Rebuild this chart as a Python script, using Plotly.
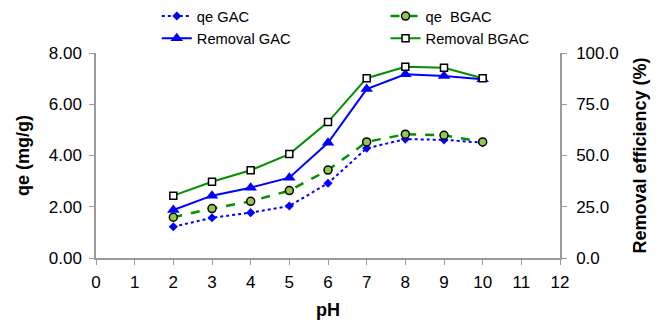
import plotly.graph_objects as go

ph = [2, 3, 4, 5, 6, 7, 8, 9, 10]
qe_gac = [1.22, 1.57, 1.77, 2.03, 2.92, 4.28, 4.64, 4.61, 4.50]
qe_bgac = [1.59, 1.93, 2.21, 2.63, 3.43, 4.53, 4.83, 4.79, 4.53]
rem_gac = [23.4, 30.4, 34.3, 39.2, 56.2, 82.4, 89.6, 88.8, 87.2]
rem_bgac = [30.4, 37.2, 42.8, 50.7, 66.3, 87.7, 93.3, 92.8, 87.7]

x_ticks = list(range(0, 13))
left_ticks = [0, 2, 4, 6, 8]
right_ticks = [0, 25, 50, 75, 100]

BLUE = "#0000FF"
GREEN = "#009000"
LGREEN = "#92C850"

fig = go.Figure()
fig.add_trace(go.Scatter(x=ph, y=qe_gac, name="qe GAC", mode="lines+markers",
                         line=dict(color=BLUE, width=2, dash="dot"),
                         marker=dict(symbol="diamond", size=7, color=BLUE),
                         legend="legend"))
fig.add_trace(go.Scatter(x=ph, y=rem_gac, name="Removal GAC", mode="lines+markers",
                         line=dict(color=BLUE, width=2),
                         marker=dict(symbol="triangle-up", size=11, color=BLUE),
                         yaxis="y2", legend="legend"))
fig.add_trace(go.Scatter(x=ph, y=qe_bgac, name="qe  BGAC", mode="lines+markers",
                         line=dict(color=GREEN, width=2.5, dash="dash"),
                         marker=dict(symbol="circle", size=8, color=LGREEN,
                                     line=dict(color="black", width=1.5)),
                         legend="legend2"))
fig.add_trace(go.Scatter(x=ph, y=rem_bgac, name="Removal BGAC", mode="lines+markers",
                         line=dict(color=GREEN, width=2),
                         marker=dict(symbol="square", size=7, color="white",
                                     line=dict(color="black", width=1.5)),
                         yaxis="y2", legend="legend2"))

axis_common = dict(showgrid=False, zeroline=False, showline=True,
                   linecolor="#9a9a9a", linewidth=1.5, ticks="outside",
                   tickcolor="#9a9a9a", ticklen=5,
                   tickfont=dict(family="Liberation Sans, Arial", size=17, color="black"))

fig.update_layout(
    width=659, height=325,
    margin=dict(l=96, r=99, t=53, b=67, autoexpand=False),
    paper_bgcolor="white", plot_bgcolor="white",
    font=dict(family="Liberation Sans, Arial", color="black"),
    xaxis=dict(range=[0, 12], tickvals=x_ticks, **axis_common, ticklabelstandoff=3,
               title=dict(text="<b>pH</b>", font=dict(size=18), standoff=12)),
    yaxis=dict(range=[0, 8], tickvals=left_ticks, tickformat=".2f", **axis_common,
               ticklabelstandoff=4,
               title=dict(text="<b>qe (mg/g)</b>", font=dict(size=18), standoff=14)),
    yaxis2=dict(range=[0, 100], tickvals=right_ticks, tickformat=".1f", overlaying="y",
                side="right", **axis_common, ticklabelstandoff=6,
                title=dict(text="<b>Removal efficiency (%)</b>", font=dict(size=18), standoff=16)),
    legend=dict(x=0.131, y=1.0, xanchor="left", yanchor="top", yref="container",
                font=dict(size=14.7), bgcolor="rgba(0,0,0,0)", tracegroupgap=0),
    legend2=dict(x=0.624, y=1.0, xanchor="left", yanchor="top", yref="container",
                 font=dict(size=14.7), bgcolor="rgba(0,0,0,0)", tracegroupgap=0),
)

fig.write_html("out.html")
